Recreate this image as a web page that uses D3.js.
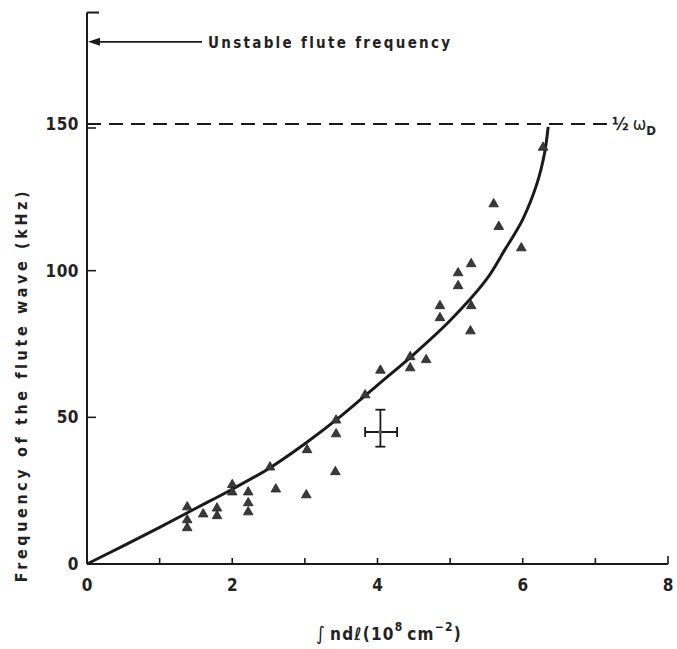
<!DOCTYPE html>
<html>
<head>
<meta charset="utf-8">
<script src="https://cdn.jsdelivr.net/npm/d3@7"></script>
<style>
  body { margin: 0; background: #fff; }
  text { font-family: "DejaVu Sans Condensed", "DejaVu Sans", sans-serif; font-weight: bold; fill: #222; }
</style>
</head>
<body>
<svg width="677" height="649"></svg>
<script>
// measured points (triangles), x in 10^8 cm^-2, y in kHz
var pointX = [1.38, 1.38, 1.38, 1.6, 1.79, 1.79, 2.0, 2.0, 2.22, 2.22, 2.22, 2.52, 2.6, 3.03, 3.02,
              3.42, 3.43, 3.43, 3.83, 4.04, 4.45, 4.45, 4.67, 4.86, 4.86, 5.11, 5.11, 5.29, 5.29,
              5.28, 5.6, 5.67, 5.98, 6.28];
var pointY = [19.4, 15, 12.3, 17, 19, 16.4, 27, 24.5, 24.5, 20.8, 17.7, 33, 25.5, 38.9, 23.5,
              31.4, 49, 44.3, 57.6, 66, 70.6, 66.8, 69.6, 88, 83.9, 99.2, 94.8, 102.3, 88,
              79.4, 122.7, 115, 107.7, 142];

// fitted curve
var curveX = [0, 0.5, 1, 1.5, 2, 2.5, 3, 3.5, 4, 4.5, 5, 5.5, 5.75, 6, 6.2, 6.3, 6.35];
var curveY = [0, 6.2, 12.5, 19, 25.5, 32.5, 41, 50.5, 61, 71.5, 83, 97, 107, 117.5, 130, 140, 149];

// error bar sample
var errX = [4.04, 3.83, 4.27];
var errY = [45, 40, 52.6];

var xTicks = [0, 2, 4, 6, 8];
var yTicks = [0, 50, 100, 150];
var halfOmegaD = 150;
var unstable = 178;

var svg = d3.select("svg");

var x = d3.scaleLinear().domain([0, 8]).range([87, 668]);
var y = d3.scaleLinear().domain([0, 150]).range([564, 124]);

var ink = "#1a1a1a";

// axes: draw lines by hand so the ticks point inward
var g = svg.append("g").attr("stroke", ink).attr("fill", "none");

g.append("line")
  .attr("x1", x(0)).attr("x2", x(0))
  .attr("y1", y(0)).attr("y2", y(188))
  .attr("stroke-width", 2);
// cap at the top of y axis
g.append("line")
  .attr("x1", x(0)).attr("x2", x(0) + 12)
  .attr("y1", y(188)).attr("y2", y(188))
  .attr("stroke-width", 2);

g.append("line")
  .attr("x1", x(0)).attr("x2", x(8))
  .attr("y1", y(0)).attr("y2", y(0))
  .attr("stroke-width", 2);

// x ticks (upwards)
g.selectAll(".xt")
  .data(d3.range(1, 9))
  .enter().append("line")
  .attr("class", "xt")
  .attr("x1", function(d) { return x(d); })
  .attr("x2", function(d) { return x(d); })
  .attr("y1", y(0))
  .attr("y2", function(d) { return y(0) - (d == 8 ? 8 : 6); })
  .attr("stroke-width", 1.6);

// y ticks (right)
g.selectAll(".yt")
  .data([50, 100, 150])
  .enter().append("line")
  .attr("class", "yt")
  .attr("x1", x(0))
  .attr("x2", x(0) + 9)
  .attr("y1", function(d) { return y(d) + (d == 150 ? 4 : 0); })
  .attr("y2", function(d) { return y(d) + (d == 150 ? 4 : 0); })
  .attr("stroke-width", 1.6);

// tick labels
svg.selectAll(".xl")
  .data(xTicks)
  .enter().append("text")
  .attr("x", function(d) { return x(d); })
  .attr("y", y(0) + 27)
  .attr("text-anchor", "middle")
  .attr("font-size", 17)
  .text(function(d) { return d; });

svg.selectAll(".yl")
  .data(yTicks)
  .enter().append("text")
  .attr("x", x(0) - 8)
  .attr("y", function(d) { return y(d) + 6; })
  .attr("text-anchor", "end")
  .attr("font-size", 17)
  .attr("letter-spacing", 0.5)
  .text(function(d) { return d; });

// axis titles
svg.append("text")
  .attr("transform", "translate(27," + 385 + ") rotate(-90)")
  .attr("text-anchor", "middle")
  .attr("font-size", 16)
  .attr("letter-spacing", 3.6)
  .text("Frequency of the flute wave (kHz)");

var xt = svg.append("text")
  .attr("x", 316)
  .attr("y", 640)
  .attr("font-size", 17)
  .attr("letter-spacing", 1.2);
xt.append("tspan").attr("font-style", "italic").attr("font-weight", "normal").attr("font-size", 19).text("\u222B");
xt.append("tspan").attr("dx", 4).text("ndℓ(10");
xt.append("tspan").attr("dy", -9).attr("font-size", 12).text("8");
xt.append("tspan").attr("dy", 9).attr("dx", 4).text("cm");
xt.append("tspan").attr("dy", -9).attr("font-size", 12).text("\u22122");
xt.append("tspan").attr("dy", 9).text(")");

// half omega D dashed line
svg.append("line")
  .attr("x1", x(0)).attr("x2", x(7.2))
  .attr("y1", y(halfOmegaD)).attr("y2", y(halfOmegaD))
  .attr("stroke", ink)
  .attr("stroke-width", 1.8)
  .attr("stroke-dasharray", "14,8");

var om = svg.append("text")
  .attr("x", 612)
  .attr("y", y(halfOmegaD) + 6)
  .attr("font-size", 18);
om.append("tspan").text("\u00BD");
om.append("tspan").attr("dx", 4).attr("font-weight", "normal").text("\u03C9");
om.append("tspan").attr("dy", 5).attr("font-size", 13).text("D");

// unstable flute frequency arrow
svg.append("line")
  .attr("x1", x(0) + 8).attr("x2", 202)
  .attr("y1", y(unstable)).attr("y2", y(unstable))
  .attr("stroke", ink)
  .attr("stroke-width", 1.6);
svg.append("path")
  .attr("d", "M" + (x(0) + 1) + "," + y(unstable) +
             " L" + (x(0) + 13) + "," + (y(unstable) - 4) +
             " L" + (x(0) + 13) + "," + (y(unstable) + 4) + " Z")
  .attr("fill", ink);

svg.append("text")
  .attr("x", 208)
  .attr("y", y(unstable) + 6)
  .attr("font-size", 15)
  .attr("letter-spacing", 2.3)
  .text("Unstable flute frequency");

// curve
var line = d3.line()
  .x(function(d) { return x(d[0]); })
  .y(function(d) { return y(d[1]); })
  .curve(d3.curveCatmullRom);

svg.append("path")
  .datum(d3.zip(curveX, curveY))
  .attr("d", line)
  .attr("fill", "none")
  .attr("stroke", ink)
  .attr("stroke-width", 3);

// triangles
var tri = d3.symbol().type(d3.symbolTriangle).size(40);
svg.selectAll(".pt")
  .data(d3.zip(pointX, pointY))
  .enter().append("path")
  .attr("class", "pt")
  .attr("d", tri)
  .attr("transform", function(d) { return "translate(" + x(d[0]) + "," + y(d[1]) + ")"; })
  .attr("fill", "#3a3a3a")
  .attr("stroke", "#222")
  .attr("stroke-width", 0.8);

// error bar
var eb = svg.append("g").attr("stroke", ink).attr("stroke-width", 1.8);
eb.append("line")
  .attr("x1", x(errX[1])).attr("x2", x(errX[2]))
  .attr("y1", y(errY[0])).attr("y2", y(errY[0]));
eb.append("line")
  .attr("x1", x(errX[0])).attr("x2", x(errX[0]))
  .attr("y1", y(errY[1])).attr("y2", y(errY[2]));
[errX[1], errX[2]].forEach(function(v) {
  eb.append("line").attr("x1", x(v)).attr("x2", x(v))
    .attr("y1", y(errY[0]) - 5).attr("y2", y(errY[0]) + 5);
});
[errY[1], errY[2]].forEach(function(v) {
  eb.append("line").attr("x1", x(errX[0]) - 5).attr("x2", x(errX[0]) + 5)
    .attr("y1", y(v)).attr("y2", y(v));
});
eb.append("circle")
  .attr("cx", x(errX[0])).attr("cy", y(errY[0])).attr("r", 2)
  .attr("fill", "#555").attr("stroke", "none");
</script>
</body>
</html>
